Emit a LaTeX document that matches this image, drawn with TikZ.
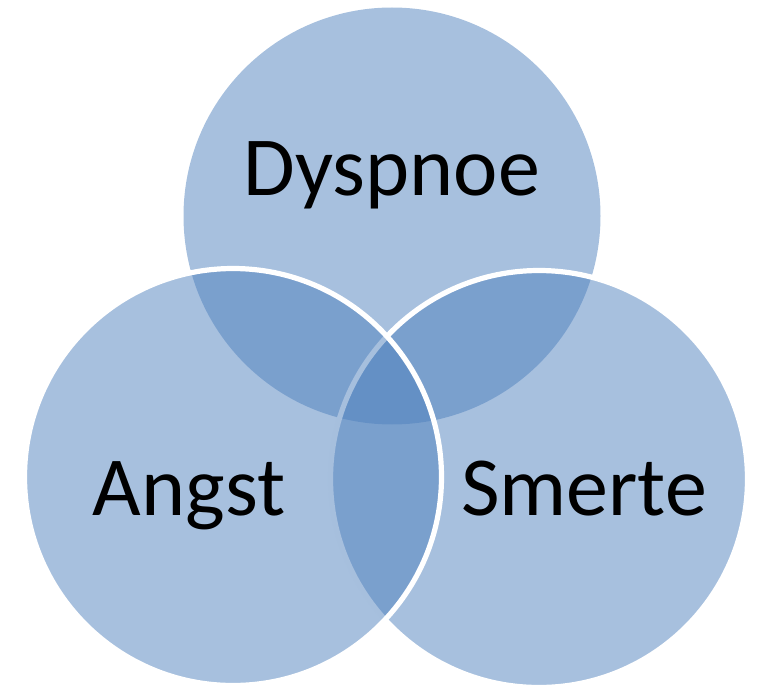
\documentclass[tikz,border=0pt]{standalone}
\usepackage{fontspec}
\setmainfont{Carlito}
\definecolor{vblue}{HTML}{4F81BD}
\tikzset{
  vcirc/.style={fill=vblue, fill opacity=0.5},
  vline/.style={draw=white, line width=5.2pt},
  vlabel/.style={anchor=base, inner sep=0pt, font=\fontsize{84}{90}\selectfont, text=black}
}
\begin{document}
\begin{tikzpicture}[x=1pt,y=-1pt]
\useasboundingbox (0,0) rectangle (758,690);
% top circle
\path[vcirc] (392,216) circle[radius=208.5];
% right circle
\path[vcirc] (539,479) circle[radius=208.5];
\draw[vline] (539,479) circle[radius=208.5];
% left circle
\path[vcirc] (233,477) circle[radius=208.5];
\draw[vline] (233,477) circle[radius=208.5];
\node[vlabel] (dys) at (392,195) {Dyspnoe};
\node[vlabel] (ang) at (189,515) {Angst};
\node[vlabel] (sme) at (584,515) {Smerte};
\end{tikzpicture}
\end{document}
